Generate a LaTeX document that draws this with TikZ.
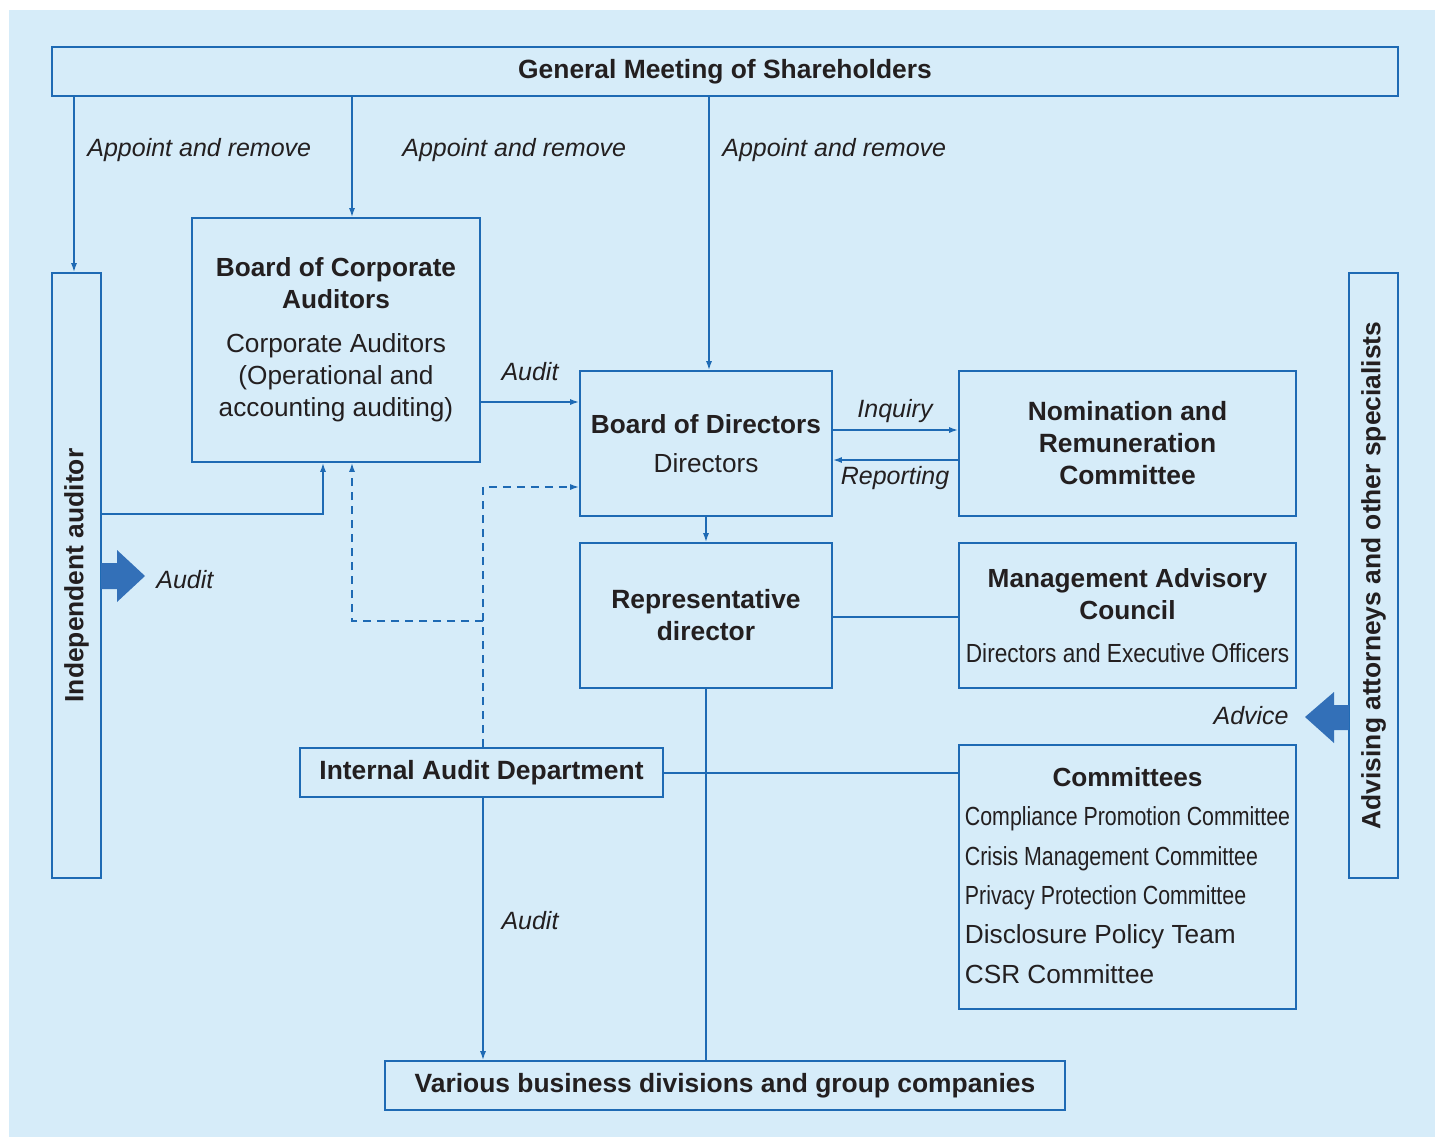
\documentclass[tikz,border=0pt]{standalone}
\usepackage{fontspec}
\setmainfont{Liberation Sans}
\newfontfamily\narrowfont[FakeStretch=0.815]{Liberation Sans}
\newfontfamily\midfont[FakeStretch=0.865]{Liberation Sans}
\usetikzlibrary{arrows.meta}
\definecolor{bgblue}{RGB}{214,236,249}
\definecolor{linec}{RGB}{30,106,180}
\definecolor{fatc}{RGB}{51,112,184}
\definecolor{txt}{RGB}{35,31,32}

\begin{document}
\begin{tikzpicture}[x=0.5pt,y=-0.5pt,
    box/.style={draw=linec,line width=0.8pt,text=txt,align=center,inner sep=0pt,
                font=\fontsize{13.1}{16}\selectfont},
    title/.style={box,font=\fontsize{13.2}{16}\selectfont\bfseries},
    lbl/.style={text=txt,inner sep=0pt,font=\fontsize{12.5}{15}\selectfont\itshape},
    arr/.style={draw=linec,line width=0.8pt,-{Latex[length=4.5pt,width=3pt]}},
    conn/.style={draw=linec,line width=0.8pt},
    dashline/.style={draw=linec,line width=0.8pt,dash pattern=on 4pt off 3pt},
    fat/.style={fill=fatc}
  ]
  \fill[white] (0,0) rectangle (1435,1137);
  \fill[bgblue] (9,10) rectangle (1435,1137);

  % boxes
  \node[title, minimum width=673pt, minimum height=24.5pt] (gms) at (725,71.5) {General Meeting of Shareholders};
  \node[box, minimum width=24.5pt, minimum height=302.5pt] (ia) at (76.5,575.5) {};
  \node[text=txt, rotate=90, font=\fontsize{13.2}{16}\selectfont\bfseries] (ialbl) at (ia) {Independent auditor};
  \node[box, minimum width=24.5pt, minimum height=302.5pt] (adv) at (1373.5,575.5) {};
  \node[text=txt, rotate=90, font=\fontsize{13.2}{16}\selectfont\bfseries] (advlbl) at (adv) {Advising attorneys and other specialists};
  \node[box, minimum width=144pt, minimum height=122pt] (bca) at (336,340)
    {\textbf{Board of Corporate}\\\textbf{Auditors}\\[6pt]Corporate Auditors\\(Operational and\\accounting auditing)};
  \node[box, minimum width=126pt, minimum height=72.5pt] (bod) at (706,443.5)
    {\textbf{Board of Directors}\\[3.5pt]Directors};
  \node[title, minimum width=168.5pt, minimum height=72.5pt] (nrc) at (1127.5,443.5)
    {Nomination and\\Remuneration\\Committee};
  \node[title, minimum width=126pt, minimum height=72.5pt] (rep) at (706,615.5)
    {Representative\\director};
  \node[box, minimum width=168.5pt, minimum height=72.5pt] (mac) at (1127.5,615.5)
    {\textbf{Management Advisory}\\\textbf{Council}\\[5.5pt]{\midfont Directors and Executive Officers}};
  \node[title, minimum width=181.5pt, minimum height=24.5pt] (iad) at (481.5,772.5) {Internal Audit Department};
  \node[box, minimum width=168.5pt, minimum height=132pt, font=\fontsize{13.1}{19.7}\selectfont] (com) at (1127.5,877)
    {\begin{tabular}{@{}l@{}}
      \multicolumn{1}{@{}c@{}}{\textbf{Committees}}\\
      {\narrowfont Compliance Promotion Committee}\\
      {\narrowfont Crisis Management Committee}\\
      {\narrowfont Privacy Protection Committee}\\
      Disclosure Policy Team\\
      CSR Committee
    \end{tabular}};
  \node[title, minimum width=340pt, minimum height=24.5pt] (vbd) at (725,1085.5) {Various business divisions and group companies};

  % appoint and remove
  \coordinate (t1) at (74,96);
  \coordinate (t2) at (352,96);
  \coordinate (t3) at (709,96);
  \draw[arr] (t1) -- (t1 |- ia.north);
  \draw[arr] (t2) -- (t2 |- bca.north);
  \draw[arr] (t3) -- (t3 |- bod.north);
  \node[lbl, anchor=west] (ar1) at (87,150) {Appoint and remove};
  \node[lbl, anchor=west] (ar2) at (402,150) {Appoint and remove};
  \node[lbl, anchor=west] (ar3) at (722,150) {Appoint and remove};

  % audit and reporting lines
  \draw[arr] (bca.east |- 0,402) -- (bod.west |- 0,402);
  \node[lbl] (aud1) at (530,372) {Audit};
  \draw[arr] (bod.east |- 0,430) -- (nrc.west |- 0,430);
  \node[lbl] (inq) at (895,411) {Inquiry};
  \draw[arr] (nrc.west |- 0,460) -- (bod.east |- 0,460);
  \node[lbl] (rpt) at (895,478) {Reporting};
  \draw[arr] (bod.south) -- (rep.north);
  \draw[conn] (rep.east |- 0,617) -- (mac.west |- 0,617);
  \draw[arr] (ia.east |- 0,514) -| ([xshift=-6.5pt]bca.south);
  \draw[dashline, arr] ([xshift=0.75pt]iad.north) |- (bod.west |- 0,487);
  \draw[dashline, arr] ([xshift=0.75pt]iad.north |- 0,621) -| ([xshift=8pt]bca.south);
  \draw[conn] (iad.east |- 0,773) -- (com.west |- 0,773);
  \draw[conn] (rep.south) -- (rep.south |- vbd.north);
  \draw[arr] ([xshift=0.75pt]iad.south) -- ([xshift=0.75pt]iad.south |- vbd.north);
  \node[lbl] (aud3) at (530,921) {Audit};

  % fat arrows
  \fill[fat] (101,563) -- (117,563) -- (117,550) -- (145,576) -- (117,602) -- (117,589) -- (101,589) -- cycle;
  \node[lbl, anchor=west] (aud2) at (156,580) {Audit};
  \fill[fat] (1349,705) -- (1334,705) -- (1334,692) -- (1305,717) -- (1334,743) -- (1334,730) -- (1349,730) -- cycle;
  \node[lbl, anchor=east] (advc) at (1289,716) {Advice};
\end{tikzpicture}
\end{document}
